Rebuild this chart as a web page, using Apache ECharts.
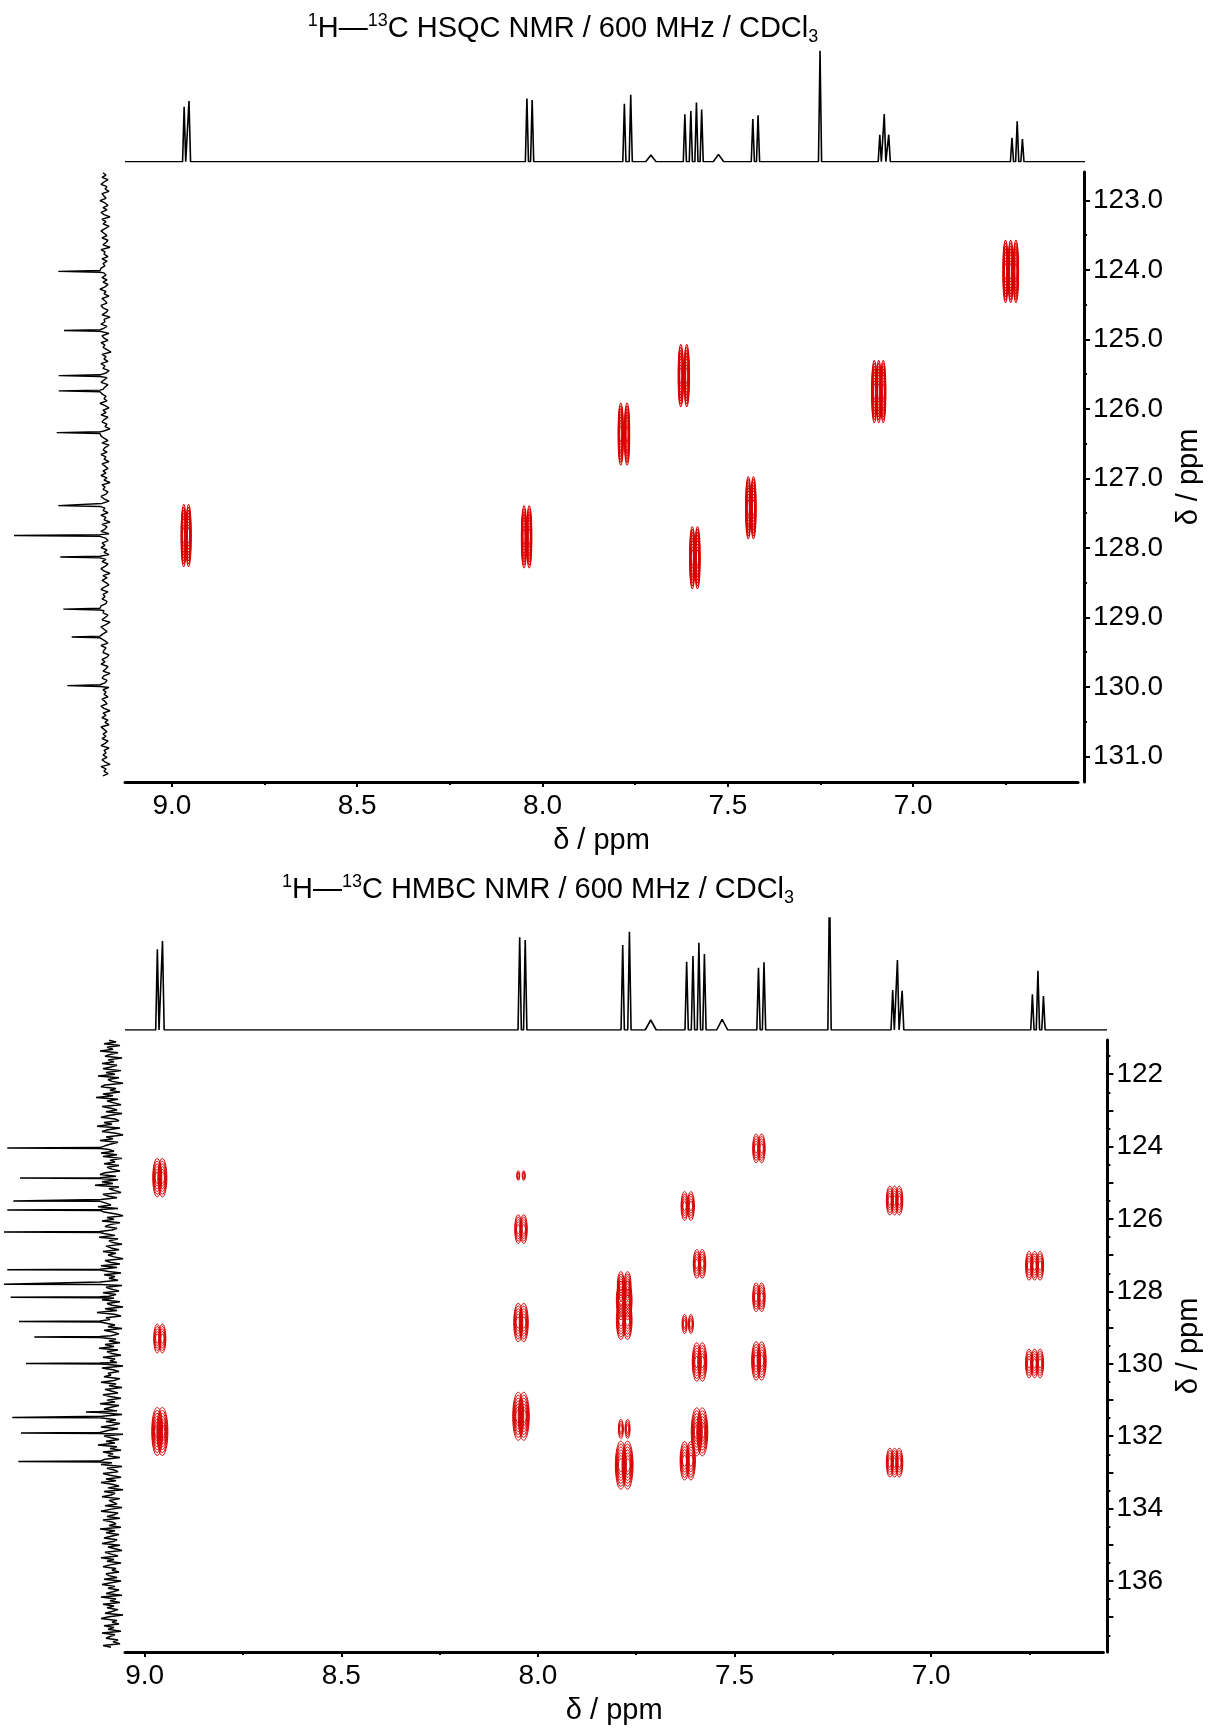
<!DOCTYPE html>
<html>
<head>
<meta charset="utf-8">
<script src="https://cdn.jsdelivr.net/npm/echarts@6/dist/echarts.min.js"></script>
<style>
html, body { margin: 0; padding: 0; background: #fff; }
#chart { width: 1211px; height: 1731px; }
</style>
</head>
<body>
<div id="chart"></div>
<script>
// ---- 1H trace: line positions (ppm) and heights
var hPpm = [8.968, 8.955, 8.050, 8.036, 7.789, 7.772, 7.627, 7.611, 7.596, 7.582,
            7.445, 7.431, 7.265, 7.105, 7.093, 7.081, 6.751, 6.737, 6.723];
var hsqcHInt = [55, 60.7, 63.3, 61.7, 58, 67, 47.3, 50.7, 59.3, 52.3,
                42.7, 46.3, 111, 27, 47.7, 27, 24, 40.3, 22.7];
var hmbcHInt = [80.7, 89, 92.7, 90, 85, 98.3, 68.3, 74, 87.3, 76,
                62.3, 67.7, 150, 40, 70, 39.3, 35.7, 59.3, 34];
// small broad humps
var hBumpPpm = [7.718, 7.537];
var hsqcBumpInt = [6.7, 7.3];
var hmbcBumpInt = [10, 10.7];

// ---- 13C traces (left side)
var hsqcCPpm = [124.02, 124.87, 125.52, 125.74, 126.34, 127.39, 127.82, 128.13, 128.88, 129.28, 129.98];
var hsqcCInt = [41.7, 36, 41.3, 41.3, 43.3, 41.7, 86, 39.7, 36.7, 28.3, 32.7];
var hmbcCPpm = [124.04, 124.87, 125.50, 125.75, 126.36, 127.40, 127.80, 128.16, 128.83, 129.26, 129.99,
                131.33, 131.48, 131.91, 132.70];
var hmbcCInt = [92.7, 80, 86.7, 92.7, 96, 92.7, 96, 89.3, 81, 65.7, 74, 14, 87.7, 79, 81.7];
// baseline noise, top to bottom
var hsqcCNoise = [
  -3,-6,-2,-8,-4,-1,-7,-5,-9,-2,-4,-6,0,-5,-8,-3,-7,-1,-4,-10,
  -2,-6,-3,-9,-5,-1,-4,-7,-2,-8,-6,-3,-10,-1,-5,-4,-8,-2,-7,-3,
  -5,-1,-9,-4,-6,-2,-7,-3,-8,-5,0,-6,-4,-9,-2,-5,-7,-1,-3,-8,
  -6,-2,-10,-4,-5,-1,-7,-3,-6,-9,-2,-4,-8,-1,-5,-3,-7,-11,-2,-6,
  -4,-8,-1,-5,-3,-9,-6,-2,-7,-4,-1,-8,-5,-3,-10,-2,-6,-4,-7,0,
  -5,-9,-3,-6,-1,-8,-4,-2,-7,-5,-10,-3,-6,-1,-4,-8,-2,-9,-5,-3,
  -7,-1,-6,-4,-9,-2,-5,-8,-3,-6,-1,-7,-4,-10,-2,-5,-3,-8,-6,-1,
  -4,-9,-2,-7,-5,-3,-8,-1,-6,-4,-10,-2,-7,-5,-1,-9,-3,-6,-8,-2,
  -5,-1,-7,-4,-9,-3,-6,-2,-8,-5,-1,-4,-10,-3,-7,-2,-6,-9,-4,-1,
  -8,-3,-5,-2,-7,-6,-1,-9,-4,-3,-8,-5,-2,-10,-6,-1,-4,-7,-3,-9,
  -2,-5,-8,-1,-6,-4,-3,-9,-7,-2,-5,-1,-8,-6,-3,-10,-4,-2,-7,-5,
  -1,-9,-3,-6,-4,-8,-2,-5,-7,-1,-4,-10,-3,-6,-2,-8,-5,-9,-1,-4,
  -7,-3,-6,-2,-8,-5,-1,-9,-4,-6,-3,-7,-2,-5,-10,-1,-6,-4,-8,-3];
var hmbcCNoise = [
  -9,-16,-4,-20,-7,-13,0,-18,-10,-5,-22,-8,-14,-2,-17,-11,-3,-21,-6,-15,
  2,-19,-8,-12,-23,-5,-1,-16,-10,-20,-3,-13,4,-18,-7,-14,-21,-2,-11,-17,
  -6,-22,-9,-1,-15,-19,-4,-12,3,-20,-8,-2,-16,-23,-6,-13,0,-18,-11,-5,
  -21,-9,-14,-1,-17,-3,-22,-10,-15,-4,-19,-7,-12,-20,-5,0,-16,-11,-18,-2,
  -13,5,-19,-9,-15,-21,-3,-8,-17,-1,-22,-6,-11,2,-18,-12,-4,-16,-23,-7,
  -14,-2,-20,-10,-5,-17,-12,-21,-4,-15,1,-18,-9,-13,-22,-6,-11,-19,-3,-16,
  -8,-14,-23,-5,-10,-20,-1,-17,-12,-7,-21,-4,-15,-9,-18,0,-13,-22,-6,-11,
  -19,-3,-16,-9,-14,-2,-20,-7,-12,-23,-5,-17,3,-14,-21,-6,-10,-18,-1,-15,
  -8,-22,-4,-13,-19,-11,-2,-16,-9,-20,-5,-14,1,-18,-7,-12,-21,-3,-15,-10,
  -17,-6,-23,-2,-13,-19,-8,-11,-4,-20,-14,-1,-16,-9,-22,-5,-12,-18,-3,-10,
  -21,-7,-15,0,-19,-11,-4,-17,-13,-22,-2,-9,-16,-6,-20,-12,-1,-18,-8,-14,
  -23,-4,-11,-19,-6,-15,2,-17,-10,-21,-3,-13,-8,-20,-5,-16,-12,-1,-22,-7,
  -14,-18,-3,-10,-21,-6,-16,-1,-12,-19,-8,-23,-4,-15,-11,-2,-20,-9,-13,-17,
  -5,-22,-10,-1,-18,-14,-7,-20,-3,-12,-16,-9,-21,0,-15,-6,-19,-11,-4,-17,
  -13,-2,-20,-8,-15,-22,-5,-11,-18,-1,-14,-7,-21,-10,-3,-16,-12,-19,-6,-9,
  -17,-4,-21,-11,-2,-15,-8,-19,-13,-6,-22,-1,-16,-10,-20,-3,-14,-7,-18,-12,
  -5,-23,-9,-1,-17,-12,-19,-4,-14,-8,-21,-2,-15,-10,-6,-18,-13,-20,-3,-11];

// ---- multiplet lines of each proton, used for the cross-peak lobes
var lobeA = [8.968, 8.955];
var lobeB = [8.050, 8.036];
var lobeC = [7.789, 7.772];
var lobeD = [7.627, 7.611];
var lobeE = [7.596, 7.582];
var lobeF = [7.445, 7.431];
var lobeG = [7.105, 7.093, 7.081];
var lobeH = [6.751, 6.737, 6.723];
var lobes = { A: lobeA, B: lobeB, C: lobeC, D: lobeD, E: lobeE, F: lobeF, G: lobeG, H: lobeH };

// HSQC cross peaks
var hsqcGroup = ['A', 'B', 'C', 'D', 'E', 'F', 'G', 'H'];
var hsqcC = [127.82, 127.84, 126.36, 125.52, 128.14, 127.42, 125.75, 124.02];

// HMBC cross peaks (level = number of contour levels seen)
var hmbcGroup = ['A', 'A', 'A', 'B', 'B', 'B', 'B', 'C', 'C', 'C', 'C', 'C',
                 'D', 'D', 'D', 'E', 'E', 'E', 'F', 'F', 'F', 'G', 'G', 'H', 'H'];
var hmbcC = [124.86, 129.30, 131.87, 124.80, 126.28, 128.86, 131.45, 127.85, 128.25, 128.80, 131.80, 132.80,
             125.64, 128.90, 132.68, 127.24, 129.95, 131.88, 124.05, 128.16, 129.92, 125.49, 132.73, 127.29, 129.99];
var hmbcLevel = [4, 3, 5, 1, 3, 4, 5, 3, 4, 4, 2, 5,
                 3, 2, 4, 3, 4, 5, 3, 3, 4, 3, 3, 3, 3];

// ---------------------------------------------------------------
var FONT = '"Liberation Sans", Arial, sans-serif';
var RED = '#d90000';
var topX = [6.5554, 9.1264], botX = [6.562, 9.050];
var topY = [122.59, 131.367], botY = [121.055, 137.961];

function protonTrace(lo, hi, ppm, ints, bumpPpm, bumpInts) {
  var pts = [[hi, 0], [lo, 0]];
  ppm.forEach(function (p, i) {
    pts.push([p + 0.0042, 0], [p, ints[i]], [p - 0.0042, 0]);
  });
  bumpPpm.forEach(function (p, i) {
    pts.push([p + 0.014, 0], [p, bumpInts[i]], [p - 0.014, 0]);
  });
  pts.sort(function (a, b) { return b[0] - a[0]; });
  return pts;
}

function carbonTrace(lo, hi, noise, peaks, ints) {
  var pts = [];
  var n = noise.length;
  for (var i = 0; i < n; i++) {
    var y = lo + (hi - lo) * i / (n - 1);
    var near = peaks.some(function (p) { return Math.abs(p - y) < 0.02; });
    if (!near) pts.push([noise[i], y]);
  }
  peaks.forEach(function (p, j) {
    pts.push([0, p - 0.012], [ints[j], p], [0, p + 0.012]);
  });
  pts.sort(function (a, b) { return a[1] - b[1]; });
  return pts;
}

function lobeData(groups, cs, levels) {
  var out = [];
  groups.forEach(function (g, i) {
    lobes[g].forEach(function (h) {
      out.push([h, cs[i], levels ? levels[i] : 5]);
    });
  });
  return out;
}

function contourSeries(xi, yi, data, sizeFn) {
  return {
    type: 'custom', xAxisIndex: xi, yAxisIndex: yi, data: data,
    silent: true, animation: false,
    renderItem: function (params, api) {
      var c = api.coord([api.value(0), api.value(1)]);
      var s = sizeFn(api.value(2));
      var kids = [];
      for (var k = s.rings; k >= 1; k--) {
        var f = k / s.rings;
        kids.push({
          type: 'ellipse',
          shape: { cx: c[0], cy: c[1], rx: Math.max(0.7, s.rx * (0.35 + 0.65 * f)), ry: s.ry * (0.15 + 0.85 * f) },
          style: { fill: 'none', stroke: RED, lineWidth: s.lw }
        });
      }
      return { type: 'group', children: kids };
    }
  };
}

function hidden(grid, range, inv) {
  return { gridIndex: grid, type: 'value', min: range[0], max: range[1], inverse: !!inv, show: false };
}

function mainX(grid, range) {
  return {
    gridIndex: grid, type: 'value', min: range[0], max: range[1], inverse: true, position: 'bottom',
    axisLine: { lineStyle: { color: '#000', width: 3 } },
    axisTick: { customValues: [9, 8.5, 8, 7.5, 7], length: 5, lineStyle: { color: '#000', width: 2 } },
    axisLabel: { customValues: [9, 8.5, 8, 7.5, 7], formatter: function (v) { return v.toFixed(1); },
      fontSize: 28, fontFamily: FONT, color: '#000', margin: 10 },
    splitLine: { show: false },
    name: 'δ / ppm', nameLocation: 'middle', nameGap: 44,
    nameTextStyle: { fontSize: 29, fontFamily: FONT, color: '#000' }
  };
}
function minorX(grid, range) {
  return {
    gridIndex: grid, type: 'value', min: range[0], max: range[1], inverse: true, position: 'bottom',
    axisLine: { show: false },
    axisTick: { customValues: [8.75, 8.25, 7.75, 7.25, 6.75], length: 3, lineStyle: { color: '#000', width: 2 } },
    axisLabel: { show: false }, splitLine: { show: false }
  };
}
function mainY(grid, range, off, ticks, labels, fmt, gap) {
  return {
    gridIndex: grid, type: 'value', min: range[0], max: range[1], inverse: true, position: 'right', offset: off,
    axisLine: { lineStyle: { color: '#000', width: 3 } },
    axisTick: { customValues: ticks, length: 6, lineStyle: { color: '#000', width: 2 } },
    axisLabel: { customValues: labels, formatter: fmt, fontSize: 28, fontFamily: FONT, color: '#000', margin: 9 },
    splitLine: { show: false },
    name: 'δ / ppm', nameLocation: 'middle', nameGap: gap, nameRotate: 90,
    nameTextStyle: { fontSize: 29, fontFamily: FONT, color: '#000' }
  };
}
function minorY(grid, range, off, ticks) {
  return {
    gridIndex: grid, type: 'value', min: range[0], max: range[1], inverse: true, position: 'right', offset: off,
    axisLine: { show: false },
    axisTick: { customValues: ticks, length: 3, lineStyle: { color: '#000', width: 2 } },
    axisLabel: { show: false }, splitLine: { show: false }
  };
}

var topMajor = [123, 124, 125, 126, 127, 128, 129, 130, 131];
var topMinor = [123.5, 124.5, 125.5, 126.5, 127.5, 128.5, 129.5, 130.5];
var botMajor = [], botMinor = [], botLabels = [];
for (var v = 122; v <= 137; v++) { botMajor.push(v); if (v % 2 === 0) botLabels.push(v); }
for (var m = 121.5; m <= 137.5; m += 1) botMinor.push(m);

var RICH = {
  n: { fontSize: 29, fontFamily: FONT, fill: '#000', lineHeight: 34 },
  s: { fontSize: 18, fontFamily: FONT, fill: '#000', lineHeight: 20, verticalAlign: 'top' },
  b: { fontSize: 18, fontFamily: FONT, fill: '#000', lineHeight: 14, verticalAlign: 'bottom' }
};

var lineStyle = { color: '#000', width: 1.6 };

var chart = echarts.init(document.getElementById('chart'), null, { renderer: 'canvas' });
var option = {
  animation: false,
  backgroundColor: '#fff',
  graphic: [
    { type: 'text', x: 563, y: 29, style: { text: '{s|1}{n|H—}{s|13}{n|C HSQC NMR / 600 MHz / CDCl}{b|3}',
      align: 'center', verticalAlign: 'middle', rich: RICH } },
    { type: 'text', x: 538, y: 890, style: { text: '{s|1}{n|H—}{s|13}{n|C HMBC NMR / 600 MHz / CDCl}{b|3}',
      align: 'center', verticalAlign: 'middle', rich: RICH } }
  ],
  grid: [
    { left: 125, width: 960, top: 40, height: 121.7 },   // 0 top 1H
    { left: 0, width: 125, top: 172, height: 610 },      // 1 top 13C
    { left: 125, width: 960, top: 172, height: 610 },    // 2 HSQC map
    { left: 125, width: 982, top: 918, height: 112 },    // 3 bottom 1H
    { left: 0, width: 125, top: 1040, height: 612 },     // 4 bottom 13C
    { left: 125, width: 982, top: 1040, height: 612 }    // 5 HMBC map
  ],
  xAxis: [
    hidden(0, topX, true),
    hidden(1, [-25, 100], true),
    mainX(2, topX),
    minorX(2, topX),
    hidden(3, botX, true),
    hidden(4, [-25, 100], true),
    mainX(5, botX),
    minorX(5, botX)
  ],
  yAxis: [
    hidden(0, [0, 121.7]),
    hidden(1, topY, true),
    mainY(2, topY, 6, topMajor, topMajor, function (v) { return v.toFixed(1); }, 84),
    minorY(2, topY, 6, topMinor),
    hidden(3, [0, 112]),
    hidden(4, botY, true),
    mainY(5, botY, 4, botMajor, botLabels, function (v) { return String(v); }, 64),
    minorY(5, botY, 4, botMinor)
  ],
  series: [
    { type: 'line', xAxisIndex: 0, yAxisIndex: 0, showSymbol: false, symbol: 'none', lineStyle: lineStyle,
      data: protonTrace(topX[0], topX[1], hPpm, hsqcHInt, hBumpPpm, hsqcBumpInt) },
    { type: 'line', xAxisIndex: 1, yAxisIndex: 1, showSymbol: false, symbol: 'none',
      lineStyle: { color: '#000', width: 1.4 },
      data: carbonTrace(122.6, 131.28, hsqcCNoise, hsqcCPpm, hsqcCInt) },
    contourSeries(2, 2, lobeData(hsqcGroup, hsqcC), function () { return { rx: 2.6, ry: 31, rings: 9, lw: 1.1 }; }),
    { type: 'line', xAxisIndex: 4, yAxisIndex: 4, showSymbol: false, symbol: 'none', lineStyle: lineStyle,
      data: protonTrace(botX[0], botX[1], hPpm, hmbcHInt, hBumpPpm, hmbcBumpInt) },
    { type: 'line', xAxisIndex: 5, yAxisIndex: 5, showSymbol: false, symbol: 'none',
      lineStyle: { color: '#000', width: 1.5 },
      data: carbonTrace(121.06, 137.83, hmbcCNoise, hmbcCPpm, hmbcCInt) },
    contourSeries(6, 6, lobeData(hmbcGroup, hmbcC, hmbcLevel), function (l) {
      return { rx: 0.5 + l, ry: 4.8 * l, rings: l + 2, lw: 1 };
    })
  ]
};
chart.setOption(option);
</script>
</body>
</html>
